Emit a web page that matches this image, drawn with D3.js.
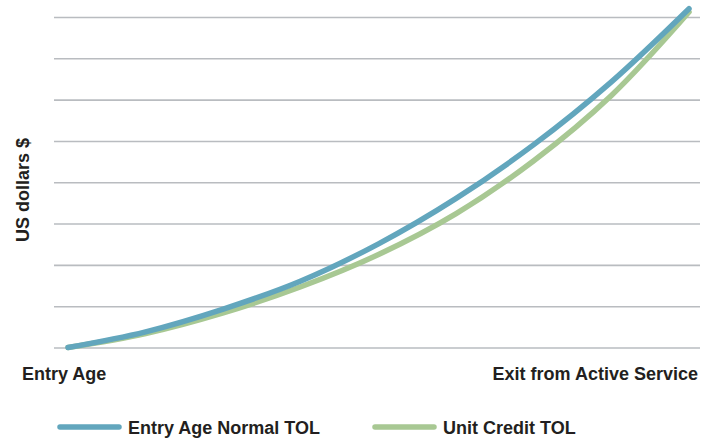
<!DOCTYPE html>
<html>
<head>
<meta charset="utf-8">
<script src="https://cdn.jsdelivr.net/npm/d3@7"></script>
<style>
  html, body { margin: 0; padding: 0; background: #fff; }
  svg { display: block; }
  text { font-family: "Liberation Sans", Arial, Helvetica, sans-serif; font-weight: bold; fill: #231f20; }
</style>
</head>
<body>
<svg id="chart" width="714" height="438"></svg>
<script>
// Years of service from entry to exit
const serviceYears = [0, 5, 10, 15, 20, 25, 30, 35, 40];
// Total obligation for liability (relative units) under each cost method
const entryAgeNormal = [0, 0.38, 0.93, 1.61, 2.51, 3.61, 4.91, 6.43, 8.20];
const unitCredit     = [0, 0.34, 0.84, 1.47, 2.25, 3.24, 4.52, 6.10, 8.12];
const gridTicks = [0, 1, 2, 3, 4, 5, 6, 7, 8];
const seriesNames = ["Entry Age Normal TOL", "Unit Credit TOL"];
const axisLabels = { start: "Entry Age", end: "Exit from Active Service", y: "US dollars $" };

const colors = { ean: "#62a6bd", uc: "#a8c893", grid: "#b9bcc0" };

const svg = d3.select("#chart");

const x = d3.scaleLinear().domain([0, 40]).range([68, 689]);
const y = d3.scaleLinear().domain([0, 8]).range([347.5, 17]);

// Horizontal gridlines
const g = svg.append("g").attr("transform", "translate(700,0)")
  .call(d3.axisLeft(y).tickValues(gridTicks).tickSize(646).tickFormat(""));
g.select(".domain").remove();
g.selectAll(".tick line").attr("stroke", colors.grid).attr("stroke-width", 1.6);

// Curves
const line = d3.line()
  .x((d, i) => x(serviceYears[i]))
  .y(d => y(d))
  .curve(d3.curveCatmullRom.alpha(0.5));

svg.append("path").datum(unitCredit)
  .attr("d", line).attr("fill", "none")
  .attr("stroke", colors.uc).attr("stroke-width", 5.5).attr("stroke-linecap", "round");

svg.append("path").datum(entryAgeNormal)
  .attr("d", line).attr("fill", "none")
  .attr("stroke", colors.ean).attr("stroke-width", 5.5).attr("stroke-linecap", "round");

// Axis end labels
svg.append("text").attr("x", 22).attr("y", 380).attr("font-size", 18).text(axisLabels.start);
svg.append("text").attr("x", 698).attr("y", 380).attr("font-size", 18)
  .attr("text-anchor", "end").text(axisLabels.end);

// Y axis title
svg.append("text")
  .attr("transform", "translate(29,190) rotate(-90)")
  .attr("text-anchor", "middle").attr("font-size", 18)
  .text(axisLabels.y);

// Legend
const legend = [
  { name: seriesNames[0], color: colors.ean, x: 60 },
  { name: seriesNames[1], color: colors.uc, x: 375 }
];
const lg = svg.selectAll(".legend").data(legend).enter().append("g")
  .attr("transform", d => `translate(${d.x},427)`);
lg.append("line").attr("x1", 0).attr("x2", 59).attr("y1", 0).attr("y2", 0)
  .attr("stroke", d => d.color).attr("stroke-width", 5.5).attr("stroke-linecap", "round");
lg.append("text").attr("x", 68).attr("y", 6.5).attr("font-size", 18).text(d => d.name);
</script>
</body>
</html>
